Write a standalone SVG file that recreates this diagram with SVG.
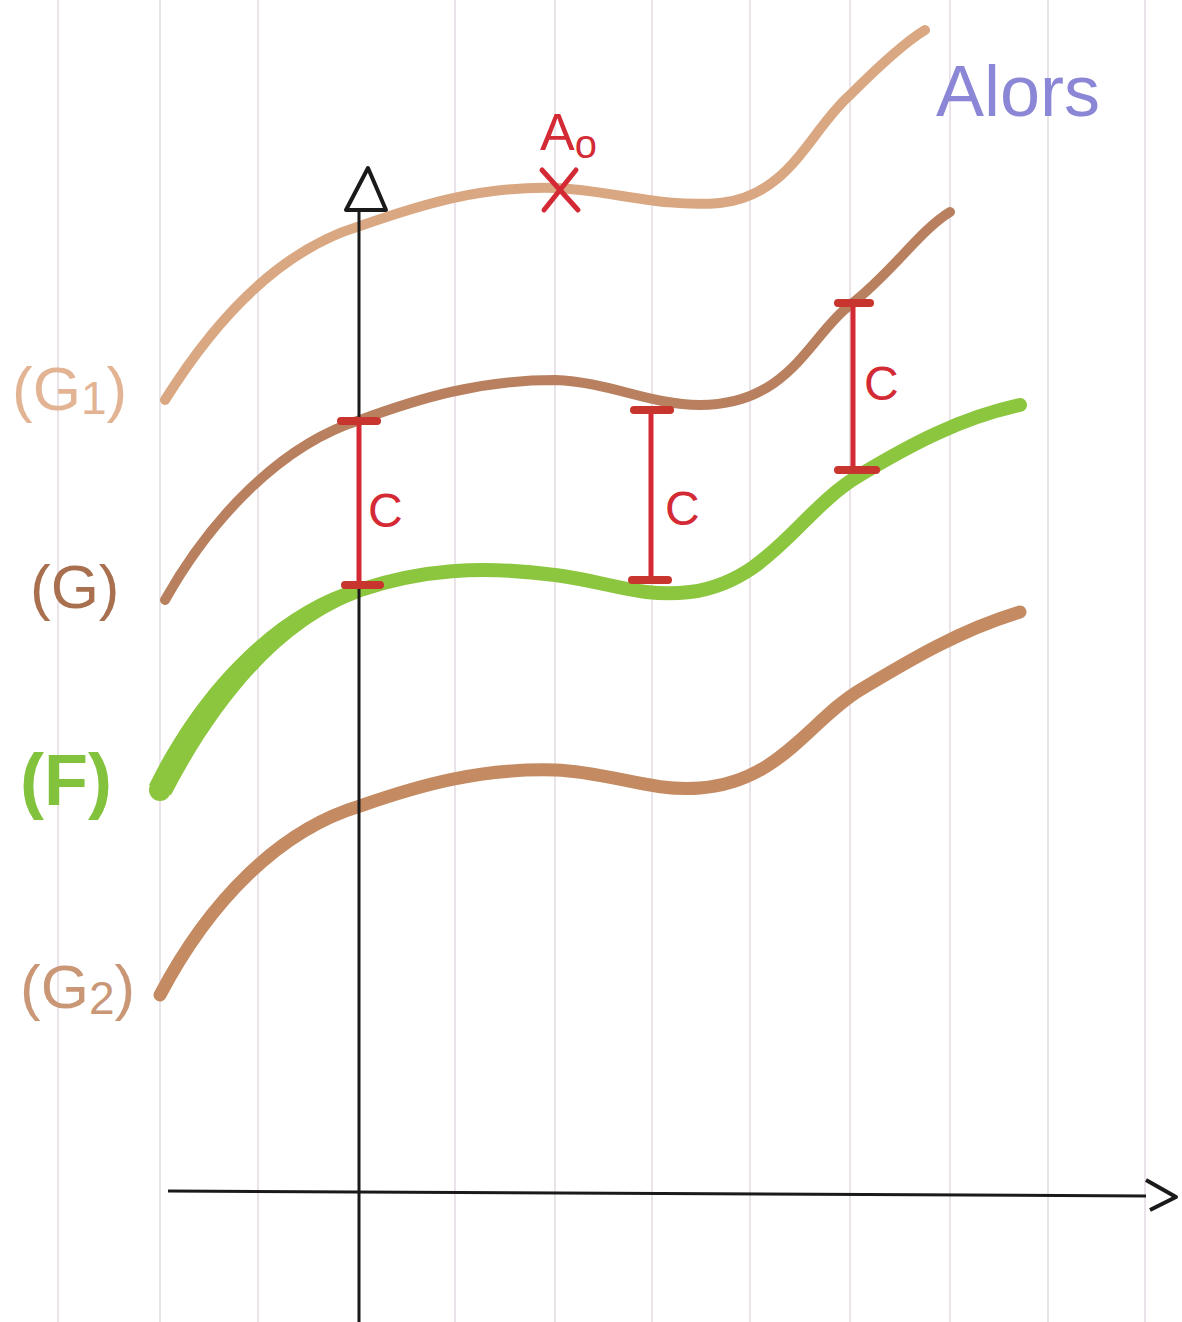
<svg xmlns="http://www.w3.org/2000/svg" width="1182" height="1322" viewBox="0 0 1182 1322">
<defs>
<style>
.grid{stroke:#ebe3ea;stroke-width:2}
.axis{stroke:#1a1a1a;stroke-width:3;fill:none}
.arrow{stroke:#1a1a1a;stroke-width:4;fill:none;stroke-linejoin:round}
.curve{fill:none;stroke-linecap:round;stroke-linejoin:round}
.red{stroke:#d42a35;stroke-width:5;stroke-linecap:round;fill:none}
.redtick{stroke:#c8342e;stroke-width:8;stroke-linecap:round}
.lbl{font-family:"Liberation Sans","DejaVu Sans",sans-serif}
</style>
</defs>
<rect width="1182" height="1322" fill="#ffffff"/>
<g id="grid">
<line class="grid" x1="58" y1="0" x2="58" y2="1322"/>
<line class="grid" x1="160" y1="0" x2="160" y2="1322"/>
<line class="grid" x1="258" y1="0" x2="258" y2="1322"/>
<line class="grid" x1="455" y1="0" x2="455" y2="1322"/>
<line class="grid" x1="555" y1="0" x2="555" y2="1322"/>
<line class="grid" x1="652" y1="0" x2="652" y2="1322"/>
<line class="grid" x1="750" y1="0" x2="750" y2="1322"/>
<line class="grid" x1="850" y1="0" x2="850" y2="1322"/>
<line class="grid" x1="950" y1="0" x2="950" y2="1322"/>
<line class="grid" x1="1048" y1="0" x2="1048" y2="1322"/>
<line class="grid" x1="1145" y1="0" x2="1145" y2="1322"/>
</g>
<g id="curve-G1">
<path class="curve" stroke="#d9a883" stroke-width="10" d="M165,400 C215,320 280,250 360,226 C420,205 480,186 555,188 C610,190 660,208 720,203 C790,196 810,130 850,95 C880,65 905,42 925,30"/>
</g>
<g id="curve-G">
<path class="curve" stroke="#b98060" stroke-width="10" d="M165,600 C210,520 280,445 360,420 C420,398 480,380 555,380 C610,382 650,405 700,405 C790,405 810,335 850,305 C890,275 920,230 950,212"/>
</g>
<g id="curve-F">
<path class="curve" stroke="#8cc63f" stroke-width="14" d="M160,790 C210,690 280,615 360,590 C420,570 480,565 555,575 C610,582 640,598 690,592 C770,582 800,510 860,475 C910,445 960,418 1020,405"/>
<path fill="#8cc63f" d="M149,785 C199,683 276,607 358,583 L362,597 C286,624 222,697 171,795 Z"/>
<circle cx="160" cy="790" r="11" fill="#8cc63f"/>
</g>
<g id="curve-G2">
<path class="curve" stroke="#c48a62" stroke-width="13" d="M160,995 C210,900 280,830 360,806 C420,785 480,768 555,770 C610,772 650,792 700,788 C780,782 810,720 860,690 C910,660 960,630 1020,612"/>
</g>
<g id="axes">
<line class="axis" x1="359" y1="1322" x2="359" y2="210"/>
<path class="arrow" d="M346,210 L368,168 L386,210 Z"/>
<line class="axis" x1="168" y1="1191" x2="1146" y2="1196"/>
<path class="arrow" d="M1146,1180 L1176,1197 L1150,1210"/>
</g>
<g id="segment-C-1">
<line class="red" x1="359" y1="421" x2="359" y2="585" stroke="#5a1c1c"/>
<line class="redtick" x1="341" y1="421" x2="377" y2="421"/>
<line class="redtick" x1="345" y1="585" x2="380" y2="585"/>
<text class="lbl" x="368" y="527" font-size="48" fill="#d42a35">C</text>
</g>
<g id="segment-C-2">
<line class="red" x1="651" y1="410" x2="651" y2="580"/>
<line class="redtick" x1="634" y1="410" x2="670" y2="410"/>
<line class="redtick" x1="632" y1="580" x2="668" y2="580"/>
<text class="lbl" x="665" y="525" font-size="48" fill="#d42a35">C</text>
</g>
<g id="segment-C-3">
<line class="red" x1="853" y1="303" x2="853" y2="470"/>
<line class="redtick" x1="838" y1="303" x2="870" y2="303"/>
<line class="redtick" x1="838" y1="470" x2="876" y2="470"/>
<text class="lbl" x="864" y="400" font-size="48" fill="#d42a35">C</text>
</g>
<g id="point-A0">
<path d="M542,170 L578,210 M576,170 L544,210" stroke="#d42a35" stroke-width="5" stroke-linecap="round" fill="none"/>
<text class="lbl" x="540" y="150" font-size="52" fill="#d42a35">A<tspan font-size="40" dy="8">o</tspan></text>
</g>
<g id="labels">
<text class="lbl" x="936" y="116" font-size="72" fill="#8b86d6">Alors</text>
<text class="lbl" x="12" y="410" font-size="62" fill="#e2b494">(G<tspan font-size="46" dy="4">1</tspan><tspan dy="-4">)</tspan></text>
<text class="lbl" x="30" y="608" font-size="62" fill="#a8704e">(G)</text>
<text class="lbl" x="20" y="805" font-size="72" font-weight="bold" fill="#82c23c">(F)</text>
<text class="lbl" x="20" y="1008" font-size="62" fill="#c99676">(G<tspan font-size="46" dy="6">2</tspan><tspan dy="-6">)</tspan></text>
</g>
</svg>
